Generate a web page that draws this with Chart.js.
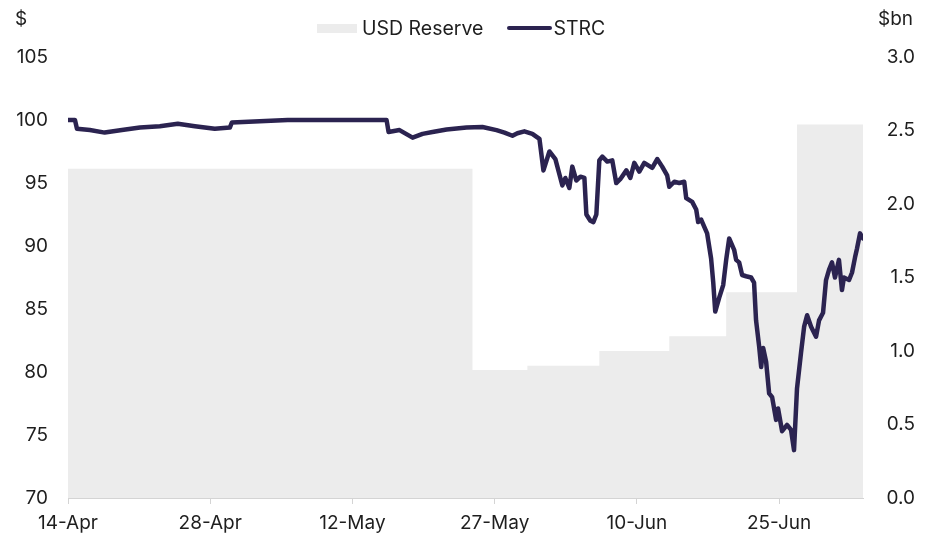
<!DOCTYPE html>
<html lang="en">
<head>
    <meta charset="UTF-8">
    <title>STRC vs USD Reserve</title>
    <style>
        body { margin: 0; background: #fff; font-family: Inter, Arial, sans-serif; color: #1e1e1e; }
        .wrap { position: relative; width: 935px; height: 547px; }
        .unit { position: absolute; top: 7px; font-size: 19px; line-height: 24px; }
        .legend { position: absolute; top: 16px; left: 317px; height: 24px; display: flex; align-items: center; font-size: 19.5px; }
        .legend .box { width: 40px; height: 9px; background: #ececec; margin-right: 5px; }
        .legend .line { width: 45px; height: 4px; background: #2b2350; margin-left: 24px; margin-right: 1px; border-radius: 2px; }
    </style>
    <script src="https://cdn.jsdelivr.net/npm/chart.js"></script>
</head>
<body>
<div class="wrap">
    <canvas id="chart"></canvas>
    <div class="unit" style="left:15px">$</div>
    <div class="unit" style="right:22px">$bn</div>
    <div class="legend">
        <span class="box"></span><span>USD Reserve</span>
        <span class="line"></span><span>STRC</span>
    </div>
</div>
<script>
    // x is in trading days from 14-Apr (one tick every 10 trading days)
    const tickDays = [0, 10, 20, 30, 40, 50];
    const tickLabels = ["14-Apr", "28-Apr", "12-May", "27-May", "10-Jun", "25-Jun"];

    // STRC price ($)
    const strcDays = [
        0, 0.49, 0.63, 1.54, 2.58, 3.79, 5.06, 6.46, 7.72, 8.92, 10.32, 11.38, 11.52, 13.48, 15.45,
        22.4, 22.54, 23.31, 24.23, 24.93, 25.63, 26.62, 28.02, 29.14, 30.13, 30.69, 31.25, 31.6,
        32.09, 32.65, 33.15, 33.43, 33.85, 34.27, 34.76, 34.97, 35.25, 35.46, 35.74, 36.03, 36.31,
        36.45, 36.73, 36.94, 37.15, 37.36, 37.57, 37.92, 38.27, 38.55, 38.83, 39.26, 39.54, 39.82,
        40.17, 40.52, 41.08, 41.43, 41.78, 42.13, 42.28, 42.63, 42.98, 43.33, 43.47, 43.89, 44.17,
        44.31, 44.52, 44.94, 45.22, 45.37, 45.51, 45.79, 46.07, 46.28, 46.49, 46.84, 46.98, 47.19,
        47.4, 47.68, 48.03, 48.24, 48.38, 48.6, 48.74, 48.88, 49.09, 49.3, 49.51, 49.79, 49.93,
        50.21, 50.56, 50.84, 51.05, 51.26, 51.54, 51.76, 51.97, 52.25, 52.6, 52.81, 53.09, 53.3,
        53.51, 53.72, 53.93, 54.21, 54.42, 54.56, 54.92, 55.13, 55.34, 55.48, 55.69, 55.9
    ];
    const strcPrice = [
        100.0, 100.0, 99.3, 99.2, 99.0, 99.2, 99.4, 99.5, 99.7, 99.5, 99.3, 99.4, 99.8, 99.9, 100.0,
        100.0, 99.05, 99.2, 98.6, 98.9, 99.05, 99.25, 99.4, 99.45, 99.2, 99.0, 98.75, 98.95,
        99.1, 98.9, 98.5, 96.0, 97.5, 96.9, 94.8, 95.4, 94.6, 96.3, 95.2, 95.5, 95.4,
        92.5, 92.0, 91.9, 92.5, 96.8, 97.1, 96.7, 96.8, 95.0, 95.3, 96.0, 95.4, 96.6,
        95.9, 96.6, 96.2, 96.9, 96.3, 95.6, 94.7, 95.1, 95.0, 95.1, 93.8, 93.5, 92.9,
        91.9, 92.1, 91.0, 89.0, 87.1, 84.8, 85.9, 86.9, 88.9, 90.6, 89.7, 88.9, 88.7,
        87.7, 87.6, 87.5, 87.1, 84.1, 82.0, 80.4, 81.9, 80.8, 78.3, 78.0, 76.2, 77.1,
        75.3, 75.8, 75.4, 73.8, 78.7, 81.5, 83.6, 84.5, 83.6, 82.8, 84.1, 84.7, 87.3,
        88.1, 88.7, 87.5, 88.9, 86.5, 87.5, 87.3, 87.9, 89.1, 89.8, 91.0, 90.6
    ];

    // USD Reserve ($bn), each value holds until the next day listed
    const reserveDays = [0, 28.44, 32.3, 37.36, 42.28, 46.28, 51.26, 55.9];
    const reserveBn = [2.24, 0.87, 0.9, 1.0, 1.1, 1.4, 2.54, 2.54];

    const textColor = "#1e1e1e";
    const axisGrey = "#d4d4d4";
    Chart.defaults.font.family = "Inter, Arial, sans-serif";
    Chart.defaults.font.size = 19;
    Chart.defaults.color = textColor;

    new Chart(document.getElementById("chart"), {
        type: "line",
        data: {
            datasets: [
                {
                    label: "USD Reserve",
                    data: reserveDays.map((d, i) => ({ x: d, y: reserveBn[i] })),
                    yAxisID: "y1",
                    stepped: "before",
                    fill: "origin",
                    backgroundColor: "#ececec",
                    borderColor: "rgba(0,0,0,0)",
                    borderWidth: 0,
                    pointRadius: 0,
                    order: 2
                },
                {
                    label: "STRC",
                    data: strcDays.map((d, i) => ({ x: d, y: strcPrice[i] })),
                    yAxisID: "y",
                    borderColor: "#2b2350",
                    borderWidth: 4.5,
                    borderJoinStyle: "round",
                    borderCapStyle: "round",
                    pointRadius: 0,
                    tension: 0,
                    fill: false,
                    order: 1
                }
            ]
        },
        options: {
            responsive: true,
            maintainAspectRatio: false,
            animation: false,
            layout: { padding: { top: 57, right: 20, bottom: 0, left: 0 } },
            plugins: { legend: { display: false }, tooltip: { enabled: false } },
            scales: {
                x: {
                    type: "linear",
                    min: 0,
                    max: 55.9,
                    afterBuildTicks: s => { s.ticks = tickDays.map(v => ({ value: v })); },
                    afterFit: s => { s.height = 49; },
                    ticks: {
                        autoSkip: false,
                        maxRotation: 0,
                        padding: 8,
                        callback: (v, i) => tickLabels[i]
                    },
                    grid: { drawOnChartArea: false, tickLength: 6, color: axisGrey },
                    border: { color: axisGrey }
                },
                y: {
                    position: "left",
                    min: 70,
                    max: 105,
                    afterFit: s => { s.width = 68; },
                    ticks: { stepSize: 5, padding: 20 },
                    grid: { display: false, drawTicks: false },
                    border: { display: false }
                },
                y1: {
                    position: "right",
                    min: 0,
                    max: 3,
                    afterFit: s => { s.width = 52; },
                    ticks: { stepSize: 0.5, padding: 0, crossAlign: "far", callback: v => v.toFixed(1) },
                    grid: { display: false, drawTicks: false },
                    border: { display: false }
                }
            }
        }
    });
</script>
</body>
</html>
